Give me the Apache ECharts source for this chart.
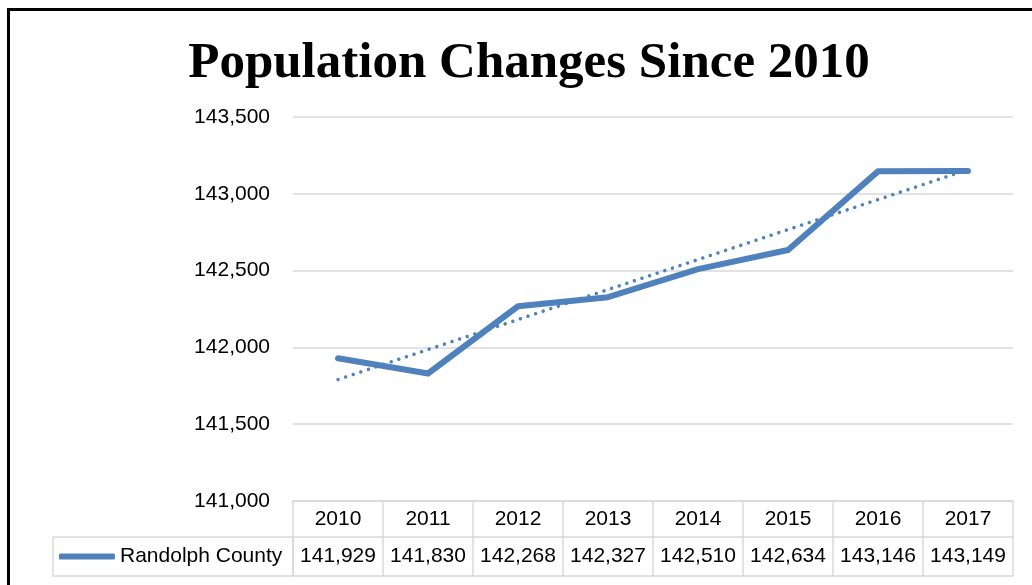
<!DOCTYPE html>
<html>
<head>
<meta charset="utf-8">
<script src="https://cdn.jsdelivr.net/npm/echarts@6/dist/echarts.min.js"></script>
<style>
html,body{margin:0;padding:0;background:#fff;}
#frame{position:absolute;left:7px;top:8px;width:1100px;height:700px;border-left:3px solid #000;border-top:3px solid #000;}
#chart{position:absolute;left:0;top:0;width:1032px;height:585px;}
</style>
</head>
<body>
<div id="frame"></div>
<div id="chart"></div>
<script>
const years=['2010','2011','2012','2013','2014','2015','2016','2017'];
const population=[141929,141830,142268,142327,142510,142634,143146,143149];
const yTicks=[141000,143500,500]; //min,max,interval
const seriesName='Randolph County';
const BLUE='#4f81bd', GRID='#d9d9d9', FONT='Liberation Sans';

function fmt(v){return v.toLocaleString('en-US');}

// linear trendline (least squares) like excel
var n=population.length, sx=0, sy=0, sxy=0, sxx=0;
for(var i=0;i<n;i++){sx+=i;sy+=population[i];sxy+=i*population[i];sxx+=i*i;}
var slope=(n*sxy-sx*sy)/(n*sxx-sx*sx);
var icpt=(sy-slope*sx)/n;
var trend=population.map((v,i)=>icpt+slope*i);

var chart=echarts.init(document.getElementById('chart'));
chart.setOption({
    animation:false,
    title:{text:'Population Changes Since 2010',left:524,top:33,textAlign:'center',
        textStyle:{fontFamily:'Liberation Serif',fontWeight:'bold',fontSize:51,color:'#000'}},
    legend:{data:[seriesName],left:59,top:546,padding:0,itemWidth:56,itemHeight:6,icon:'roundRect',
        itemStyle:{color:BLUE},textStyle:{fontFamily:FONT,fontSize:21,color:'#000',padding:[0,0,0,0]},itemGap:0},
    grid:{left:293,right:19,top:117,bottom:84,containLabel:false},
    xAxis:[
        {type:'category',data:years,position:'bottom',
         axisLine:{lineStyle:{color:GRID,width:1.5}},
         axisTick:{show:true,length:75,lineStyle:{color:GRID,width:1.5}},
         axisLabel:{fontFamily:FONT,fontSize:21,color:'#000',margin:8,interval:0}},
        {type:'category',data:population.map(fmt),position:'bottom',offset:36,
         axisLine:{lineStyle:{color:GRID,width:1.5}},axisTick:{show:false},
         axisLabel:{fontFamily:FONT,fontSize:21,color:'#000',margin:9,interval:0,hideOverlap:false}},
        {type:'category',data:years,position:'bottom',offset:75,
         axisLine:{lineStyle:{color:GRID,width:1.5}},axisTick:{show:false},axisLabel:{show:false}}
    ],
    yAxis:{type:'value',min:yTicks[0],max:yTicks[1],interval:yTicks[2],
        axisLine:{show:false},axisTick:{show:false},
        splitLine:{lineStyle:{color:GRID,width:1.5}},
        axisLabel:{fontFamily:FONT,fontSize:21,color:'#000',margin:23,formatter:fmt}},
    graphic:[
        {type:'rect',shape:{x:53,y:537,width:240,height:39},style:{fill:'none',stroke:GRID,lineWidth:1.5},z:1}
    ],
    series:[
        {name:seriesName,type:'line',data:population,symbol:'none',
         lineStyle:{color:BLUE,width:6,cap:'round',join:'round'},itemStyle:{color:BLUE},z:3},
        {name:'trend',type:'line',data:trend,symbol:'none',silent:true,
         lineStyle:{color:BLUE,width:3.5,type:[0.01,8],cap:'round'},z:2}
    ]
});
</script>
</body>
</html>
